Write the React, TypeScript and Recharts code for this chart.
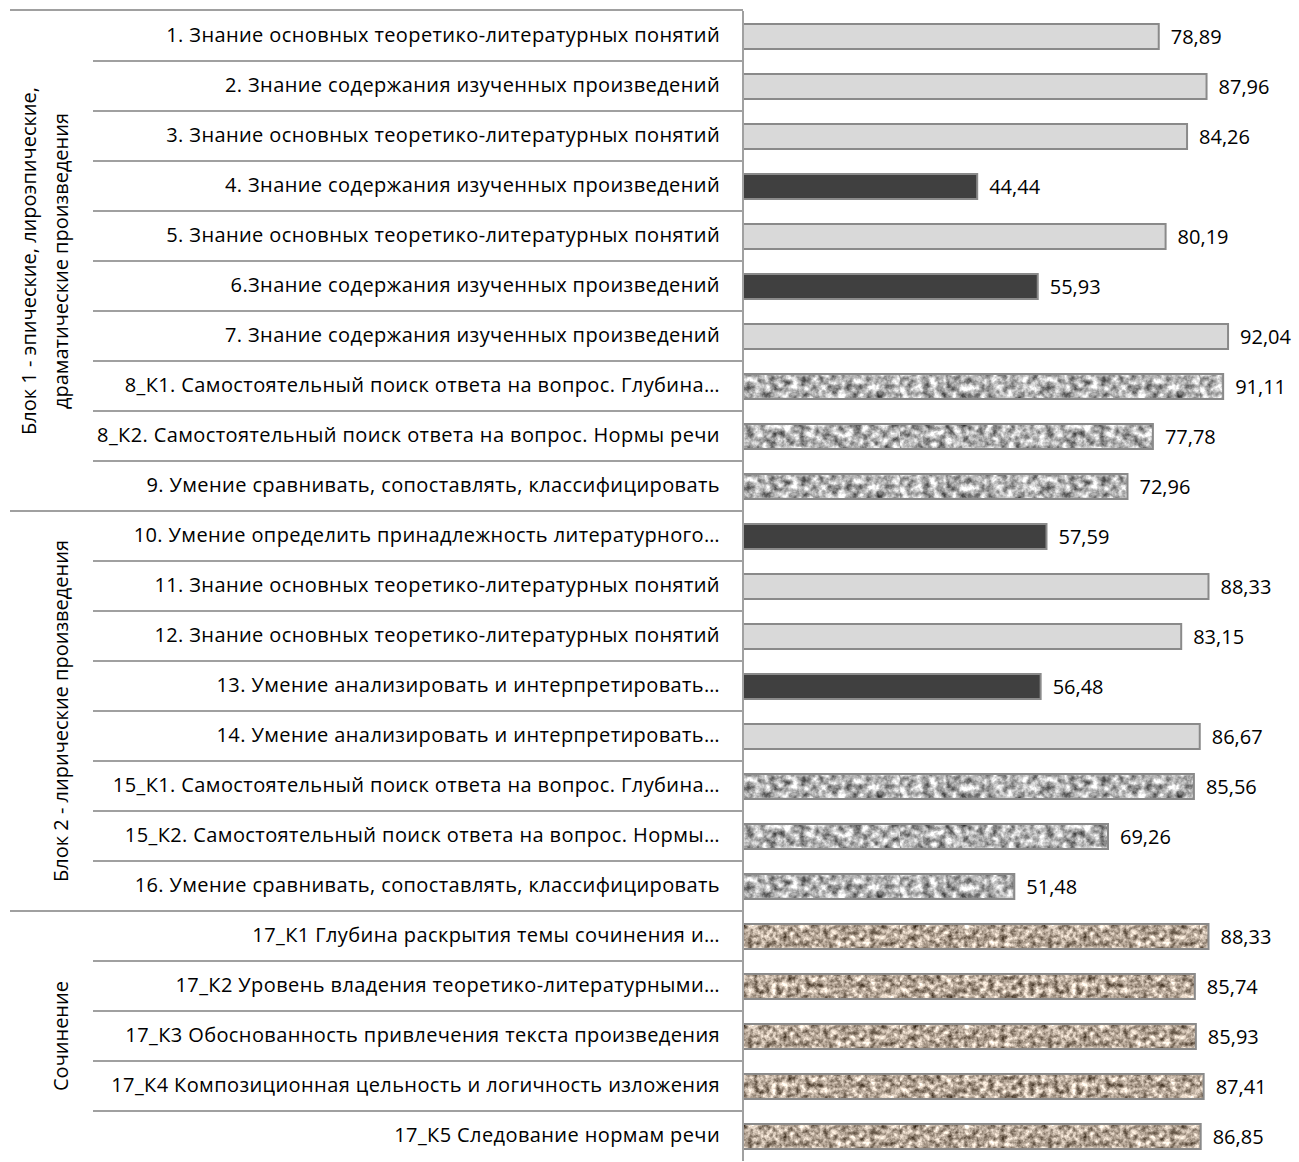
import React from 'react';
import { BarChart, Bar, XAxis, YAxis, LabelList, Cell } from 'recharts';

const categories = [
  '1. Знание основных теоретико-литературных понятий',
  '2. Знание содержания изученных произведений',
  '3. Знание основных теоретико-литературных понятий',
  '4. Знание содержания изученных произведений',
  '5. Знание основных теоретико-литературных понятий',
  '6.Знание содержания изученных произведений',
  '7. Знание содержания изученных произведений',
  '8_К1. Самостоятельный поиск ответа на вопрос. Глубина…',
  '8_К2. Самостоятельный поиск ответа на вопрос. Нормы речи',
  '9. Умение сравнивать, сопоставлять, классифицировать',
  '10. Умение определить принадлежность литературного…',
  '11. Знание основных теоретико-литературных понятий',
  '12. Знание основных теоретико-литературных понятий',
  '13. Умение анализировать и интерпретировать…',
  '14. Умение анализировать и интерпретировать…',
  '15_К1. Самостоятельный поиск ответа на вопрос. Глубина…',
  '15_К2. Самостоятельный поиск ответа на вопрос. Нормы…',
  '16. Умение сравнивать, сопоставлять, классифицировать',
  '17_К1 Глубина раскрытия темы сочинения и…',
  '17_К2 Уровень владения теоретико-литературными…',
  '17_К3 Обоснованность привлечения текста произведения',
  '17_К4 Композиционная цельность и логичность изложения',
  '17_К5 Следование нормам речи',
];

const values = [
  78.89, 87.96, 84.26, 44.44, 80.19, 55.93, 92.04, 91.11, 77.78, 72.96,
  57.59, 88.33, 83.15, 56.48, 86.67, 85.56, 69.26, 51.48,
  88.33, 85.74, 85.93, 87.41, 86.85,
];

// fill style of each bar
const fillTypes = [
  'light', 'light', 'light', 'dark', 'light', 'dark', 'light', 'granite', 'granite', 'granite',
  'dark', 'light', 'light', 'dark', 'light', 'granite', 'granite', 'granite',
  'sand', 'sand', 'sand', 'sand', 'sand',
];

const groups = [
  { lines: ['Блок 1 - эпические, лироэпические,', 'драматические произведения'], start: 0, count: 10 },
  { lines: ['Блок 2 - лирические произведения'], start: 10, count: 8 },
  { lines: ['Сочинение'], start: 18, count: 5 },
];

const data = categories.map((name, i) => ({ name, value: values[i], kind: fillTypes[i] }));

const WIDTH = 1299;
const HEIGHT = 1162;
const MARGIN = { top: 11, right: 29, bottom: 1, left: 0 };
const AXIS_W = 743;
const BAND = (HEIGHT - MARGIN.top - MARGIN.bottom) / data.length;
const FONT = '"Open Sans", sans-serif';
const FS = 20;
const LS = 0.4;
const LINE = '#a0a0a0';

const groupStarts = groups.map((g) => g.start);

const CategoryTick = (props: any) => {
  const { y, payload, index } = props;
  const i = index ?? payload.index;
  const nextIsGroup = groupStarts.includes(i + 1);
  const g = groups.find((gr) => gr.start === i);
  return (
    <g>
      {i === 0 && <line x1={10} x2={AXIS_W} y1={y - BAND / 2 - 1} y2={y - BAND / 2 - 1} stroke={LINE} strokeWidth={2} />}
      {i < data.length - 1 && (
        <line x1={nextIsGroup ? 10 : 93} x2={AXIS_W} y1={y + BAND / 2} y2={y + BAND / 2} stroke={LINE} strokeWidth={2} />
      )}
      <text x={AXIS_W - 23} y={y} dy={6} textAnchor="end" fontFamily={FONT} fontSize={FS} letterSpacing={LS} fill="#000">
        {payload.value}
      </text>
      {g && (() => {
        const cy = y + ((g.count - 1) * BAND) / 2;
        const n = g.lines.length;
        return g.lines.map((ln, k) => {
          const cx = n === 1 ? 62 : 30 + k * 32;
          return (
            <text key={k} x={cx} y={cy} dy={6} transform={`rotate(-90 ${cx} ${cy})`} textAnchor="middle" fontFamily={FONT} fontSize={FS} fill="#000">
              {ln}
            </text>
          );
        });
      })()}
    </g>
  );
};

const fillFor: Record<string, string> = {
  light: '#d9d9d9',
  dark: '#404040',
  granite: 'url(#graniteP)',
  sand: 'url(#sandP)',
};

const fmt = (v: any) => Number(v).toFixed(2).replace('.', ',');

export default function App() {
  return (
    <div style={{ position: 'absolute', left: 0, top: 0, width: WIDTH, height: HEIGHT, background: '#fff' }}>
      <BarChart width={WIDTH} height={HEIGHT} data={data} layout="vertical" margin={MARGIN} barSize={25}>
        <defs>
          <filter id="graniteF" x="0" y="0" width="1" height="1" colorInterpolationFilters="sRGB">
            <feTurbulence type="fractalNoise" baseFrequency="0.13" numOctaves="4" seed="5" result="n" />
            <feColorMatrix in="n" type="matrix" values="1 0 0 0 0  1 0 0 0 0  1 0 0 0 0  0 0 0 0 1" result="g" />
            <feComponentTransfer in="g">
              <feFuncR type="linear" slope="1.25" intercept="0.07" />
              <feFuncG type="linear" slope="1.25" intercept="0.07" />
              <feFuncB type="linear" slope="1.25" intercept="0.07" />
            </feComponentTransfer>
          </filter>
          <filter id="sandF" x="0" y="0" width="1" height="1" colorInterpolationFilters="sRGB">
            <feTurbulence type="fractalNoise" baseFrequency="0.17" numOctaves="4" seed="11" result="n" />
            <feColorMatrix in="n" type="matrix" values="1 0 0 0 0  1 0 0 0 0  1 0 0 0 0  0 0 0 0 1" result="g" />
            <feComponentTransfer in="g">
              <feFuncR type="linear" slope="1.25" intercept="0.09" />
              <feFuncG type="linear" slope="1.25" intercept="0.03" />
              <feFuncB type="linear" slope="1.25" intercept="-0.03" />
            </feComponentTransfer>
          </filter>
          <pattern id="graniteP" patternUnits="userSpaceOnUse" x="0" y="0" width="300" height="100">
            <rect x="0" y="0" width="300" height="100" fill="#b4b4b4" filter="url(#graniteF)" />
          </pattern>
          <pattern id="sandP" patternUnits="userSpaceOnUse" x="0" y="0" width="300" height="100">
            <rect x="0" y="0" width="300" height="100" fill="#b0a396" filter="url(#sandF)" />
          </pattern>
        </defs>
        <XAxis type="number" domain={[0, 100]} height={0} tick={false} axisLine={false} tickLine={false} />
        <YAxis
          type="category"
          dataKey="name"
          width={AXIS_W}
          axisLine={{ stroke: LINE, strokeWidth: 2 }}
          tickLine={false}
          tick={(p: any) => <CategoryTick {...p} />}
          interval={0}
        />
        <Bar dataKey="value" isAnimationActive={false} fill="#d9d9d9" stroke="#8a8a8a" strokeWidth={2}>
          {data.map((d, i) => (
            <Cell key={i} fill={fillFor[d.kind]} stroke="#8a8a8a" strokeWidth={2} />
          ))}
          <LabelList
            dataKey="value"
            position="right"
            offset={12}
            formatter={fmt}
            style={{ fontFamily: FONT, fontSize: FS, fill: '#000' }}
          />
        </Bar>
      </BarChart>
    </div>
  );
}
